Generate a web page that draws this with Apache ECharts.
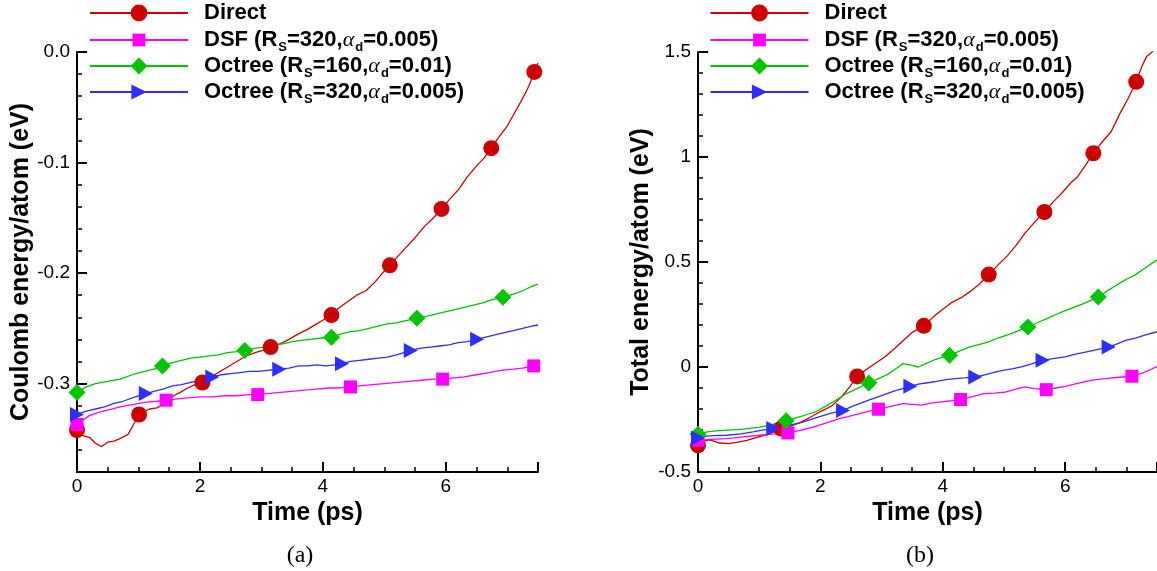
<!DOCTYPE html>
<html><head><meta charset="utf-8">
<script src="https://cdn.jsdelivr.net/npm/echarts@6/dist/echarts.min.js"></script>
<style>html,body{margin:0;padding:0;background:#fff}#c{width:1157px;height:571px}</style>
</head><body><div id="c"></div>
<script>
// ---------- names / ticks ----------
const seriesNames = ['Direct', 'DSF (R_S=320,α_d=0.005)', 'Octree (R_S=160,α_d=0.01)', 'Octree (R_S=320,α_d=0.005)'];
const xTitle = 'Time (ps)';
const yTitles = ['Coulomb energy/atom (eV)', 'Total energy/atom (eV)'];
const captions = ['(a)', '(b)'];
const xMajorTicks = [0, 2, 4, 6];
const yMajorTicksA = [-0.3, -0.2, -0.1, 0.0];
const yMajorTicksB = [-0.5, 0, 0.5, 1, 1.5];

// ---------- panel (a): Coulomb energy/atom ----------
const aDirect = [[0,-0.342],[0.1,-0.347],[0.21,-0.349],[0.3,-0.354],[0.4,-0.357],[0.5,-0.353],[0.6,-0.352],[0.69,-0.350],[0.83,-0.346],[0.92,-0.337],[1.01,-0.328],[1.1,-0.325],[1.18,-0.323],[1.3,-0.322],[1.43,-0.318],[1.5,-0.314],[1.57,-0.311],[1.68,-0.308],[1.8,-0.304],[1.92,-0.301],[2.04,-0.299],[2.15,-0.295],[2.3,-0.290],[2.45,-0.285],[2.6,-0.280],[2.75,-0.275],[2.9,-0.272],[3.02,-0.270],[3.15,-0.267],[3.3,-0.264],[3.45,-0.260],[3.6,-0.255],[3.75,-0.251],[3.9,-0.246],[4.02,-0.242],[4.14,-0.238],[4.25,-0.232],[4.4,-0.226],[4.55,-0.220],[4.7,-0.216],[4.85,-0.208],[4.97,-0.200],[5.09,-0.193],[5.2,-0.186],[5.35,-0.177],[5.5,-0.168],[5.65,-0.158],[5.8,-0.150],[5.93,-0.142],[6.05,-0.134],[6.2,-0.125],[6.35,-0.113],[6.5,-0.103],[6.62,-0.096],[6.74,-0.087],[6.85,-0.078],[7.0,-0.067],[7.12,-0.055],[7.25,-0.042],[7.35,-0.031],[7.44,-0.018],[7.5,-0.010]];
const aDirectMarks = [0,1.01,2.04,3.15,4.14,5.09,5.93,6.74,7.44];
const aDSF = [[0,-0.337],[0.1,-0.333],[0.2,-0.329],[0.35,-0.326],[0.5,-0.324],[0.7,-0.321],[0.9,-0.319],[1.1,-0.317],[1.3,-0.316],[1.45,-0.315],[1.6,-0.314],[1.8,-0.313],[2.0,-0.312],[2.2,-0.312],[2.4,-0.311],[2.6,-0.311],[2.8,-0.310],[2.94,-0.310],[3.1,-0.309],[3.3,-0.308],[3.5,-0.307],[3.7,-0.306],[3.9,-0.305],[4.1,-0.304],[4.25,-0.304],[4.45,-0.303],[4.6,-0.302],[4.8,-0.301],[5.0,-0.300],[5.2,-0.299],[5.4,-0.298],[5.6,-0.297],[5.8,-0.296],[5.95,-0.296],[6.1,-0.295],[6.3,-0.294],[6.5,-0.292],[6.7,-0.290],[6.9,-0.288],[7.1,-0.287],[7.25,-0.286],[7.43,-0.284],[7.5,-0.283]];
const aDSFMarks = [0,1.45,2.94,4.45,5.95,7.43];
const aOct160 = [[0,-0.308],[0.15,-0.303],[0.3,-0.300],[0.5,-0.298],[0.7,-0.296],[0.9,-0.292],[1.1,-0.289],[1.25,-0.287],[1.39,-0.284],[1.55,-0.281],[1.7,-0.279],[1.85,-0.277],[2.0,-0.276],[2.15,-0.275],[2.3,-0.274],[2.45,-0.272],[2.6,-0.271],[2.73,-0.270],[2.9,-0.268],[3.05,-0.267],[3.2,-0.265],[3.35,-0.264],[3.5,-0.262],[3.65,-0.261],[3.8,-0.260],[3.95,-0.259],[4.14,-0.258],[4.3,-0.255],[4.45,-0.253],[4.6,-0.252],[4.75,-0.250],[4.9,-0.248],[5.05,-0.246],[5.2,-0.245],[5.35,-0.243],[5.53,-0.241],[5.7,-0.239],[5.85,-0.237],[6.0,-0.235],[6.15,-0.233],[6.3,-0.231],[6.45,-0.229],[6.6,-0.227],[6.75,-0.224],[6.93,-0.222],[7.1,-0.219],[7.25,-0.216],[7.4,-0.212],[7.5,-0.210]];
const aOct160Marks = [0,1.39,2.73,4.14,5.53,6.93];
const aOct320 = [[0,-0.328],[0.15,-0.325],[0.3,-0.323],[0.45,-0.321],[0.6,-0.318],[0.75,-0.316],[0.9,-0.313],[1.12,-0.309],[1.25,-0.307],[1.4,-0.305],[1.55,-0.302],[1.7,-0.301],[1.85,-0.299],[2.0,-0.297],[2.2,-0.294],[2.35,-0.292],[2.5,-0.291],[2.65,-0.290],[2.8,-0.289],[2.95,-0.289],[3.1,-0.288],[3.29,-0.287],[3.45,-0.286],[3.6,-0.284],[3.75,-0.284],[3.9,-0.283],[4.05,-0.284],[4.2,-0.283],[4.31,-0.282],[4.45,-0.280],[4.6,-0.279],[4.75,-0.278],[4.9,-0.277],[5.05,-0.276],[5.2,-0.274],[5.43,-0.270],[5.6,-0.268],[5.75,-0.267],[5.9,-0.266],[6.05,-0.265],[6.2,-0.263],[6.35,-0.262],[6.51,-0.260],[6.65,-0.258],[6.8,-0.256],[6.95,-0.254],[7.1,-0.252],[7.25,-0.250],[7.4,-0.248],[7.5,-0.247]];
const aOct320Marks = [0,1.12,2.2,3.29,4.31,5.43,6.51];

// ---------- panel (b): Total energy/atom ----------
const bDirect = [[0,-0.373],[0.1,-0.352],[0.2,-0.347],[0.35,-0.362],[0.5,-0.365],[0.65,-0.358],[0.8,-0.349],[0.95,-0.336],[1.05,-0.328],[1.17,-0.317],[1.36,-0.293],[1.5,-0.282],[1.66,-0.266],[1.8,-0.245],[1.95,-0.220],[2.1,-0.198],[2.2,-0.182],[2.35,-0.140],[2.48,-0.095],[2.6,-0.045],[2.75,-0.012],[2.9,0.018],[3.05,0.048],[3.2,0.085],[3.35,0.125],[3.5,0.165],[3.69,0.196],[3.85,0.240],[4.0,0.275],[4.15,0.308],[4.3,0.330],[4.45,0.360],[4.6,0.395],[4.75,0.440],[4.9,0.485],[5.05,0.528],[5.2,0.580],[5.35,0.640],[5.5,0.690],[5.66,0.738],[5.8,0.785],[5.95,0.830],[6.1,0.880],[6.2,0.905],[6.33,0.960],[6.46,1.018],[6.6,1.070],[6.75,1.120],[6.9,1.210],[7.03,1.280],[7.16,1.358],[7.25,1.430],[7.33,1.478],[7.42,1.500],[7.5,1.530]];
const bDirectMarks = [0,1.36,2.6,3.69,4.75,5.66,6.46,7.16];
const bDSF = [[0,-0.349],[0.2,-0.345],[0.47,-0.341],[0.7,-0.334],[1.01,-0.325],[1.2,-0.320],[1.47,-0.314],[1.7,-0.300],[1.88,-0.286],[2.1,-0.266],[2.31,-0.246],[2.45,-0.236],[2.64,-0.222],[2.8,-0.210],[2.95,-0.201],[3.15,-0.188],[3.35,-0.174],[3.5,-0.178],[3.65,-0.182],[3.8,-0.172],[3.95,-0.167],[4.1,-0.162],[4.29,-0.155],[4.5,-0.140],[4.67,-0.127],[4.85,-0.124],[5.03,-0.119],[5.2,-0.105],[5.33,-0.095],[5.5,-0.103],[5.69,-0.108],[5.85,-0.100],[6.0,-0.092],[6.2,-0.078],[6.44,-0.063],[6.65,-0.055],[6.85,-0.050],[7.09,-0.044],[7.25,-0.030],[7.4,-0.012],[7.5,0.002]];
const bDSFMarks = [0,1.47,2.95,4.29,5.69,7.09];
const bOct160 = [[0,-0.320],[0.15,-0.309],[0.3,-0.304],[0.47,-0.301],[0.7,-0.297],[1.01,-0.286],[1.2,-0.275],[1.44,-0.256],[1.6,-0.242],[1.8,-0.225],[1.93,-0.212],[2.1,-0.185],[2.25,-0.158],[2.42,-0.127],[2.6,-0.103],[2.79,-0.076],[2.95,-0.055],[3.1,-0.035],[3.25,-0.005],[3.35,0.016],[3.5,0.008],[3.6,0.000],[3.75,0.020],[3.9,0.038],[4.11,0.056],[4.25,0.073],[4.43,0.095],[4.6,0.108],[4.75,0.120],[4.9,0.138],[5.05,0.152],[5.2,0.168],[5.39,0.190],[5.55,0.212],[5.7,0.230],[5.85,0.250],[6.0,0.268],[6.15,0.285],[6.3,0.302],[6.54,0.333],[6.7,0.365],[6.85,0.392],[7.0,0.418],[7.15,0.440],[7.3,0.470],[7.5,0.510]];
const bOct160Marks = [0,1.44,2.79,4.11,5.39,6.54];
const bOct320 = [[0,-0.338],[0.1,-0.330],[0.25,-0.327],[0.47,-0.325],[0.7,-0.318],[0.9,-0.309],[1.05,-0.301],[1.23,-0.293],[1.45,-0.280],[1.71,-0.262],[1.95,-0.240],[2.15,-0.222],[2.37,-0.207],[2.5,-0.190],[2.64,-0.174],[2.8,-0.157],[3.0,-0.136],[3.2,-0.115],[3.47,-0.092],[3.6,-0.082],[3.75,-0.075],[3.9,-0.068],[4.05,-0.060],[4.2,-0.055],[4.35,-0.052],[4.53,-0.048],[4.7,-0.036],[4.85,-0.024],[5.0,-0.015],[5.15,-0.008],[5.3,0.002],[5.45,0.015],[5.63,0.032],[5.8,0.040],[6.0,0.048],[6.15,0.060],[6.33,0.071],[6.5,0.082],[6.71,0.095],[6.85,0.110],[7.0,0.128],[7.15,0.138],[7.3,0.152],[7.5,0.168]];
const bOct320Marks = [0,1.23,2.37,3.47,4.53,5.63,6.71];

// ---------- build ----------
const panels = [
  { data: [aDirect, aDSF, aOct160, aOct320], marks: [aDirectMarks, aDSFMarks, aOct160Marks, aOct320Marks],
    yMin: -0.38, yMax: 0, yMajor: yMajorTicksA, yTickInterval: 0.02, yTickLen: 5, yMinorSplit: 0, fmt: v => v.toFixed(1),
    grid: { left: 77, top: 52, width: 461, height: 420 }, nameGap: 43, legendLeft: 89, caption: { x: 300, y: 556 } },
  { data: [bDirect, bDSF, bOct160, bOct320], marks: [bDirectMarks, bDSFMarks, bOct160Marks, bOct320Marks],
    yMin: -0.5, yMax: 1.5, yMajor: yMajorTicksB, yTickInterval: 0.5, yTickLen: 10, yMinorSplit: 5, fmt: v => String(v),
    grid: { left: 698, top: 52, width: 460, height: 420 }, nameGap: 44, legendLeft: 709.5, caption: { x: 920, y: 556 } }
];
const colors = ['#cc0000', '#ff00ff', '#00c400', '#2e2eff'];
const symbols = ['circle', 'rect', 'diamond', 'path://M0,0L10,5L0,10Z'];
const symSizes = [16, 13, 17, [14, 15]];
const legendItemH = [21, 16, 21, 19];
const rowCenters = [15.5, 40, 66, 92];

function richName(n) {
  return n.split(/(_.|α)/).filter(s => s).map(s =>
    s[0] === '_' ? '{s|' + s[1] + '}' : (s === 'α' ? '{a|α}' : '{b|' + s + '}')).join('');
}
const rich = {
  b: { fontSize: 22, fontWeight: 'bold', fontFamily: 'Liberation Sans', color: '#000', lineHeight: 26 },
  s: { fontSize: 13, fontWeight: 'bold', fontFamily: 'Liberation Sans', color: '#000', lineHeight: 13, padding: [14, 0, 0, 1] },
  a: { fontSize: 22, fontStyle: 'italic', fontFamily: 'Liberation Serif', color: '#000', lineHeight: 26 }
};
const labelStyle = () => ({ color: '#000', fontSize: 19, fontFamily: 'Liberation Sans' });
const nameStyle = () => ({ color: '#000', fontSize: 25, fontWeight: 'bold', fontFamily: 'Liberation Sans' });

const grid = [], xAxis = [], yAxis = [], series = [], legend = [], graphic = [];
panels.forEach((p, pi) => {
  grid.push(p.grid);
  xAxis.push({ gridIndex: pi, type: 'value', min: 0, max: 7.5, interval: 2,
    axisLine: { onZero: false, lineStyle: { color: '#000', width: 2 } },
    axisTick: { show: true, inside: true, length: 10, lineStyle: { color: '#000', width: 2 } },
    minorTick: { show: true, splitNumber: 4, length: 5, lineStyle: { color: '#000', width: 1.5 } },
    axisLabel: Object.assign({ customValues: xMajorTicks, margin: 5 }, labelStyle()),
    splitLine: { show: false }, minorSplitLine: { show: false },
    name: xTitle, nameLocation: 'middle', nameGap: 24, nameTextStyle: nameStyle() });
  yAxis.push({ gridIndex: pi, type: 'value', min: p.yMin, max: p.yMax, interval: p.yTickInterval,
    axisLine: { onZero: false, lineStyle: { color: '#000', width: 2 } },
    axisTick: { show: true, inside: true, length: p.yTickLen, lineStyle: { color: '#000', width: p.yTickLen > 6 ? 2 : 1.5 } },
    minorTick: { show: p.yMinorSplit > 0, splitNumber: p.yMinorSplit || 5, length: 5, lineStyle: { color: '#000', width: 1.5 } },
    axisLabel: Object.assign({ customValues: p.yMajor, margin: 7, formatter: p.fmt }, labelStyle()),
    splitLine: { show: false }, minorSplitLine: { show: false },
    name: yTitles[pi], nameLocation: 'middle', nameGap: p.nameGap, nameTextStyle: nameStyle() });
});
// panel (a) y axis: longer major ticks on a thin strip grid whose right edge is the axis line
{
  const p = panels[0], g = p.grid, gi = grid.length;
  grid.push({ left: g.left - 10, top: g.top, width: 10, height: g.height });
  xAxis.push({ gridIndex: gi, type: 'value', show: false, min: 0, max: 1 });
  yAxis.push({ gridIndex: gi, type: 'value', min: p.yMin, max: p.yMax, position: 'right',
    axisLine: { show: true, onZero: false, lineStyle: { color: '#000', width: 2 } },
    axisTick: { show: true, inside: false, length: 10, lineStyle: { color: '#000', width: 2 }, customValues: p.yMajor },
    axisLabel: { show: false }, splitLine: { show: false } });
}
panels.forEach((p, pi) => {
  p.data.forEach((d, k) => {
    const mk = p.marks[k];
    series.push({ type: 'line', name: seriesNames[k], xAxisIndex: pi, yAxisIndex: pi,
      data: d, color: colors[k], symbol: symbols[k], showSymbol: true,
      symbolSize: (val) => mk.indexOf(val[0]) >= 0 ? symSizes[k] : 0,
      lineStyle: { width: 1.3, color: colors[k] }, itemStyle: { color: colors[k] },
      clip: true, silent: true, animation: false });
    legend.push({ left: p.legendLeft, top: rowCenters[k] - 13.5, data: [seriesNames[k]],
      orient: 'vertical', padding: 0, itemGap: 0, itemWidth: 98, itemHeight: legendItemH[k],
      selectedMode: false, formatter: richName, lineStyle: { width: 2 },
      textStyle: { rich: rich, padding: [0, 0, 0, 11] } });
  });
  graphic.push({ type: 'text', x: p.caption.x, y: p.caption.y,
    style: { text: captions[pi], fill: '#000', font: '24px "Liberation Serif"', textAlign: 'center', textVerticalAlign: 'middle', align: 'center', verticalAlign: 'middle' } });
});

const chart = echarts.init(document.getElementById('c'));
chart.setOption({ animation: false, grid, xAxis, yAxis, series, legend, graphic });
</script></body></html>
